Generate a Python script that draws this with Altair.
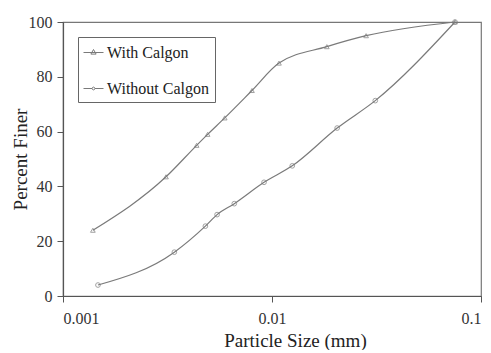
import altair as alt
import pandas as pd

# Data
with_size = [0.00139, 0.00311, 0.00436, 0.00492, 0.00594, 0.00802, 0.0108, 0.0183, 0.0282, 0.0751]
with_pct = [24, 43.5, 55, 59, 65, 75, 85, 91, 95, 100]
without_size = [0.00147, 0.00341, 0.0048, 0.00546, 0.0066, 0.00916, 0.0125, 0.0205, 0.0312, 0.0751]
without_pct = [4, 16, 25.5, 29.7, 33.7, 41.5, 47.5, 61.3, 71.3, 100]
series_names = ["With Calgon", "Without Calgon"]
x_ticks = [0.001, 0.01, 0.1]
y_ticks = [0, 20, 40, 60, 80, 100]

df = pd.concat([
    pd.DataFrame({"size": with_size, "pct": with_pct, "series": series_names[0]}),
    pd.DataFrame({"size": without_size, "pct": without_pct, "series": series_names[1]}),
])

FONT = "Liberation Serif"
GRAY = "#7a7a7a"

x = alt.X("size:Q", scale=alt.Scale(type="log", domain=[0.001, 0.1], nice=False),
          axis=alt.Axis(values=x_ticks, format="~g", title="Particle Size (mm)",
                        titleX=232, titlePadding=5, labelPadding=8, tickSize=6))
y = alt.Y("pct:Q", scale=alt.Scale(domain=[0, 100], nice=False),
          axis=alt.Axis(values=y_ticks, title="Percent Finer", tickSize=6,
                        labelPadding=5, titlePadding=-2))

base = alt.Chart(df)

lines = base.mark_line(interpolate="monotone", color=GRAY, strokeWidth=1.2).encode(
    x=x, y=y, detail="series:N")

markers = base.mark_point(filled=False, color=GRAY, strokeWidth=1, size=22).encode(
    x=x, y=y,
    shape=alt.Shape("series:N", scale=alt.Scale(domain=series_names, range=["triangle-up", "circle"]),
                    legend=None))

tri_path = "M-1,0H1M0,-0.3L0.26,0.16L-0.26,0.16Z"
circ_path = "M-1,0H-0.14M0.14,0H1M0.14,0A0.14,0.14 0 1 1 -0.14,0A0.14,0.14 0 1 1 0.14,0Z"

legend_layer = base.mark_point(filled=False, color=GRAY, opacity=0).encode(
    x=x, y=y,
    shape=alt.Shape("series:N",
                    scale=alt.Scale(domain=series_names, range=[tri_path, circ_path]),
                    legend=alt.Legend(title=None, orient="none", legendX=15, legendY=15,
                                      symbolSize=400, symbolOpacity=1, symbolStrokeColor=GRAY,
                                      symbolStrokeWidth=1, symbolFillColor="transparent",
                                      labelFont=FONT, labelFontSize=16, labelColor="#222",
                                      labelOffset=3, rowPadding=17, padding=5,
                                      strokeColor="#666", fillColor="white")))

chart = alt.layer(lines, markers, legend_layer).resolve_scale(shape="independent").properties(
    width=418, height=274,
    autosize=alt.AutoSizeParams(type="none"),
    padding={"left": 55, "top": 14, "right": 2, "bottom": 54},
).configure_view(stroke="#777", strokeWidth=1.2).configure_axis(
    grid=False, labelFont=FONT, titleFont=FONT, labelFontSize=16, titleFontSize=19,
    titleFontWeight="normal", labelColor="#333", titleColor="#222",
    domainColor="#555", tickColor="#555", domainWidth=1.2,
)

chart.save("out.html", embed_options={"renderer": "svg", "actions": False})
